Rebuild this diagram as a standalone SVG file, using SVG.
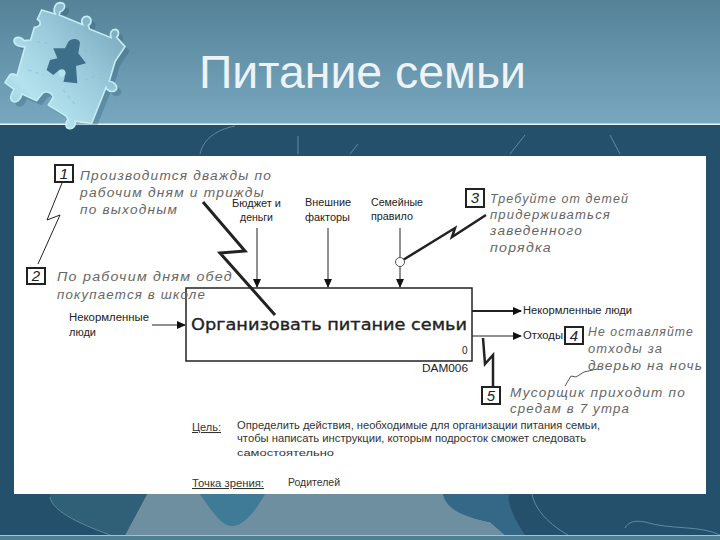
<svg xmlns="http://www.w3.org/2000/svg" width="720" height="540" viewBox="0 0 720 540">
<defs>
<linearGradient id="top" x1="0" y1="0" x2="0" y2="1"><stop offset="0" stop-color="#558297"/><stop offset="1" stop-color="#78a8c0"/></linearGradient>
<linearGradient id="puz" x1="1" y1="0" x2="0" y2="1"><stop offset="0" stop-color="#6f9fb6"/><stop offset="0.45" stop-color="#9ccbdc"/><stop offset="0.75" stop-color="#b4e2ee"/><stop offset="1" stop-color="#8fc6da"/></linearGradient>
<marker id="ah" markerWidth="9" markerHeight="8" refX="8" refY="4" orient="auto" markerUnits="userSpaceOnUse"><path d="M0 0L9 4L0 8Z" fill="#111"/></marker>
<path id="pz" d="M125 30L165 42C158 28 165 8 182 8C198 10 198 28 180 36L178 45L248 74C240 58 250 48 262 49C276 52 276 70 265 76L268 87L333 113C328 98 335 88 346 88C358 90 358 106 350 112L375 140L345 185L328 243C340 245 352 255 350 266C345 278 325 278 318 262L275 370L226 364C228 378 218 388 208 386C195 384 195 366 205 360L198 348L145 315L160 292C155 275 135 272 128 280L110 302L66 282C62 300 50 310 38 304C28 298 32 284 42 268L15 248L30 224C40 218 50 224 50 230L75 140C60 142 42 135 42 122C44 110 62 108 72 122L92 120L103 82C118 82 125 72 118 62L112 58Z"/>
</defs>
<style>
.lbl{font-family:"Liberation Sans",Arial,sans-serif;font-size:10px;fill:#222}
.note{font-family:"Liberation Sans",Arial,sans-serif;font-size:12.5px;font-style:italic;fill:#666;letter-spacing:1.100px}
.num{font-family:"Liberation Sans",Arial,sans-serif;font-size:15px;font-style:italic;fill:#222;text-anchor:middle}
.body{font-family:"Liberation Sans",Arial,sans-serif;font-size:10.500px;fill:#333}
.box{fill:#fff;stroke:#222;stroke-width:2}
.ln{fill:none;stroke:#222;stroke-width:1}
.th{fill:none;stroke:#222;stroke-width:3}
.pale{fill:none;stroke:#5f8ba0;stroke-width:1}
</style>
<rect width="720" height="124" fill="url(#top)"/>
<rect y="124" width="720" height="416" fill="#24506b"/>
<path d="M147 494L125 535H505L490 522C470 518 450 512 443 494Z" fill="#6d8f9f"/>
<path d="M200 494C212 512 222 526 232 526C244 526 256 510 265 494Z" fill="#3f7a96"/>
<path d="M443 494C446 512 470 518 490 522L505 535H525C515 520 505 500 510 494Z" fill="#37698a" opacity="0.9"/>
<path d="M50 494C50 505 60 515 110 535H125L147 494Z" fill="#2f6077"/>
<path class="pale" d="M50 497C52 510 75 522 110 535M532 494C535 510 550 525 568 535M625 528C628 522 635 520 645 522C670 530 700 525 720 535"/>
<rect y="535" width="720" height="5" fill="#4f7f92"/>
<rect y="535" width="720" height="1" fill="#a4c4cc"/>
<rect y="123.500" width="720" height="1.500" fill="#e8f3f6"/>
<path class="pale" d="M200 154C203 140 215 130 235 126M298 136V154M350 154L358 144M510 154L525 135M620 154L610 135"/>
<g id="puzzle" transform="scale(0.3333)">
<use href="#pz" x="14" y="14" fill="#2f5a72" opacity="0.3"/>
<use href="#pz" fill="url(#puz)" stroke="#c5ebf3" stroke-width="5"/>
<path d="M160 145L195 145L205 125C215 112 240 115 240 130L235 160L258 190L228 198L232 250L190 245C200 225 190 205 178 210L160 225L140 210L150 180L172 175Z" fill="#3d6f8a"/>
<path d="M175 215C180 205 195 205 197 218C197 230 185 235 178 228Z" fill="#b4e2ee"/>
<path d="M110 125L150 130M85 210L130 225M250 150L310 160M255 240L320 215M190 270L230 320" fill="none" stroke="#8dbdd0" stroke-width="4" stroke-dasharray="10 12" opacity="0.6"/>
</g>
<text x="199" y="88" font-family="'Liberation Sans',Arial,sans-serif" font-size="47" fill="#eef3f8" textLength="327" lengthAdjust="spacingAndGlyphs">Питание семьи</text>
<rect x="14" y="156" width="692" height="338" fill="#fff"/>
<g id="node-main">
<rect x="186" y="288" width="286" height="73" fill="#fff" stroke="#222" stroke-width="1.500"/>
<text x="191" y="330" font-family="'DejaVu Sans',sans-serif" font-size="16" fill="#222" stroke="#222" stroke-width="0.350" textLength="276" lengthAdjust="spacingAndGlyphs">Организовать питание семьи</text>
<text x="462" y="354" class="lbl">0</text>
<text x="422" y="372" class="lbl" textLength="46" lengthAdjust="spacingAndGlyphs">DAM006</text>
</g>
<g id="connectors">
<path class="ln" d="M62 183L47 220L60 215L38 264"/>
<path class="th" d="M203 202L245 251L220 253L275 315"/>
<path class="ln" marker-end="url(#ah)" d="M257 228V287"/>
<path class="ln" marker-end="url(#ah)" d="M328 228V287"/>
<path class="ln" marker-end="url(#ah)" d="M400 228V287"/>
<path class="th" style="stroke-width:2.500" d="M403 260L455 228L452 237L486 215"/>
<circle cx="400" cy="262" r="4.500" fill="#fff" stroke="#555" stroke-width="1"/>
<path class="ln" marker-end="url(#ah)" d="M152 325H185"/>
<path class="ln" style="stroke-width:2" marker-end="url(#ah)" d="M472 311H521"/>
<path class="ln" marker-end="url(#ah)" d="M472 336H521"/>
<path class="th" style="stroke-width:2.500" d="M483 338L485 364L493 355V387"/>
<path class="ln" style="stroke:#555" d="M565 386L571 376L576 377L584 372L597 369"/>
</g>
<g id="node-1"><rect class="box" x="55" y="165" width="18" height="17"/><text class="num" x="64" y="179">1</text></g>
<g id="node-2"><rect class="box" x="27" y="268" width="18" height="16"/><text class="num" x="36" y="281">2</text></g>
<g id="node-3"><rect class="box" x="466" y="189" width="18" height="18"/><text class="num" x="475" y="203">3</text></g>
<g id="node-4"><rect class="box" x="565" y="327" width="18" height="17"/><text class="num" x="574" y="341">4</text></g>
<g id="node-5"><rect class="box" x="482" y="387" width="18" height="17"/><text class="num" x="491" y="401">5</text></g>
<g id="labels">
<text class="note" x="80" y="180" textLength="192" lengthAdjust="spacingAndGlyphs">Производится дважды по</text>
<text class="note" x="80" y="197" textLength="185" lengthAdjust="spacingAndGlyphs">рабочим дням и трижды</text>
<text class="note" x="80" y="214" textLength="98" lengthAdjust="spacingAndGlyphs">по выходным</text>
<text class="note" x="57" y="281" textLength="176" lengthAdjust="spacingAndGlyphs">По рабочим дням обед</text>
<text class="note" x="57" y="299" textLength="149" lengthAdjust="spacingAndGlyphs">покупается в школе</text>
<text class="note" x="490" y="203" textLength="139" lengthAdjust="spacingAndGlyphs">Требуйте от детей</text>
<text class="note" x="490" y="219" textLength="121" lengthAdjust="spacingAndGlyphs">придерживаться</text>
<text class="note" x="490" y="235" textLength="93" lengthAdjust="spacingAndGlyphs">заведенного</text>
<text class="note" x="490" y="252" textLength="62" lengthAdjust="spacingAndGlyphs">порядка</text>
<text class="note" x="588" y="336" textLength="106" lengthAdjust="spacingAndGlyphs">Не оставляйте</text>
<text class="note" x="588" y="353" textLength="75" lengthAdjust="spacingAndGlyphs">отходы за</text>
<text class="note" x="588" y="370" textLength="115" lengthAdjust="spacingAndGlyphs">дверью на ночь</text>
<text class="note" x="510" y="397" textLength="176" lengthAdjust="spacingAndGlyphs">Мусорщик приходит по</text>
<text class="note" x="510" y="413" textLength="120" lengthAdjust="spacingAndGlyphs">средам в 7 утра</text>
<text class="lbl" x="232" y="207" textLength="49" lengthAdjust="spacingAndGlyphs">Бюджет и</text>
<text class="lbl" x="240" y="221" textLength="33" lengthAdjust="spacingAndGlyphs">деньги</text>
<text class="lbl" x="305" y="206" textLength="46" lengthAdjust="spacingAndGlyphs">Внешние</text>
<text class="lbl" x="305" y="221" textLength="45" lengthAdjust="spacingAndGlyphs">факторы</text>
<text class="lbl" x="371" y="206" textLength="52" lengthAdjust="spacingAndGlyphs">Семейные</text>
<text class="lbl" x="371" y="220" textLength="42" lengthAdjust="spacingAndGlyphs">правило</text>
<text class="lbl" x="69" y="321" textLength="80" lengthAdjust="spacingAndGlyphs">Некормленные</text>
<text class="lbl" x="69" y="336" textLength="27" lengthAdjust="spacingAndGlyphs">люди</text>
<text class="lbl" x="523" y="314" textLength="109" lengthAdjust="spacingAndGlyphs">Некормленные люди</text>
<text class="lbl" x="523" y="339" textLength="40" lengthAdjust="spacingAndGlyphs">Отходы</text>
<text class="body" x="192" y="431" text-decoration="underline" textLength="29" lengthAdjust="spacingAndGlyphs">Цель:</text>
<text class="body" x="237" y="429" textLength="363" lengthAdjust="spacingAndGlyphs">Определить действия, необходимые для организации питания семьи,</text>
<text class="body" x="237" y="442" textLength="349" lengthAdjust="spacingAndGlyphs">чтобы написать инструкции, которым подросток сможет следовать</text>
<text class="body" x="237" y="456" style="font-size:9.500px" textLength="97" lengthAdjust="spacingAndGlyphs">самостоятельно</text>
<text class="body" x="192" y="487" text-decoration="underline" textLength="72" lengthAdjust="spacingAndGlyphs">Точка зрения:</text>
<text class="body" x="288" y="486" textLength="52" lengthAdjust="spacingAndGlyphs">Родителей</text>
</g>
</svg>
